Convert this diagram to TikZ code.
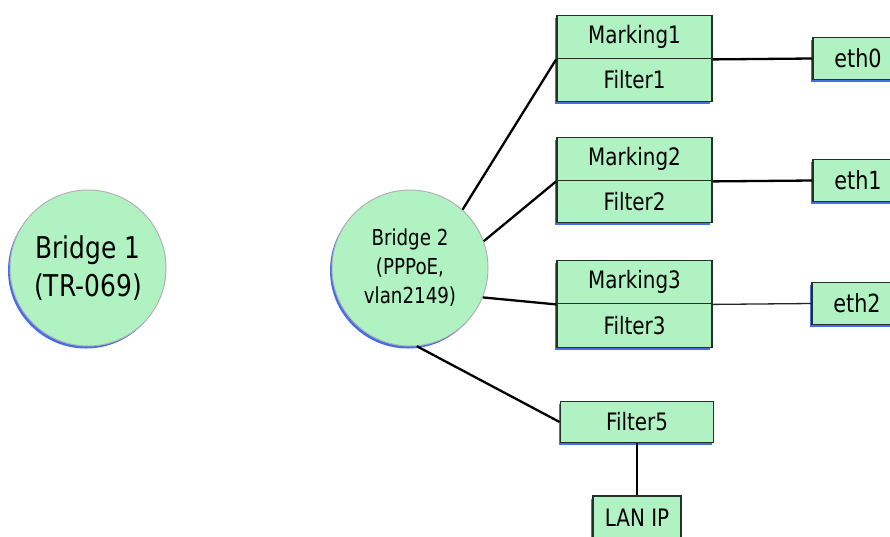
\documentclass[tikz,border=0pt]{standalone}
\usepackage{fontspec}
\newfontfamily\dvs[FakeStretch=0.83]{DejaVu Sans}
\definecolor{boxfill}{RGB}{176,242,194}
\definecolor{boxline}{RGB}{35,50,40}
\definecolor{shade}{RGB}{70,110,230}
\tikzset{
  shadowed/.style={preaction={fill=shade, transform canvas={shift={(-2pt,-2.5pt)}}}},
  cell/.style={draw=boxline, line width=1.8pt, fill=boxfill, shadowed, rectangle, inner sep=0pt,
     minimum width=155pt, minimum height=43pt, font=\dvs\fontsize{24}{28}\selectfont, text=black},
  bridge/.style={draw=black!30, line width=1pt, fill=boxfill, shadowed, circle, inner sep=0pt,
     minimum size=156pt, align=center, text=black},
  link/.style={line width=2.3pt, black},
}
\begin{document}
\begin{tikzpicture}[x=1pt,y=-1pt]
\clip (0,0) rectangle (890,536);
\fill[white] (0,0) rectangle (890,536);

\node[bridge, font=\dvs\fontsize{30}{38}\selectfont] (b1) at (88,268) {Bridge 1\\(TR-069)};
\node[bridge, font=\dvs\fontsize{22}{29}\selectfont] (b2) at (410,268) {Bridge 2\\(PPPoE,\\vlan2149)};

\node[cell] (m1) at (634.5,37) {Marking1};
\node[cell, minimum height=43pt] (f1) at (634.5,80) {Filter1};
\node[cell] (m2) at (634.5,159) {Marking2};
\node[cell, minimum height=42pt] (f2) at (634.5,201.5) {Filter2};
\node[cell] (m3) at (634.5,282) {Marking3};
\node[cell, minimum height=44pt] (f3) at (634.5,325.5) {Filter3};
\node[cell, minimum width=153pt, minimum height=41pt] (f5) at (637,422) {Filter5};
\node[cell, minimum width=88pt, minimum height=44pt] (lan) at (637,518) {LAN IP};

\node[cell, minimum width=90pt, minimum height=42pt, font=\dvs\fontsize{25}{30}\selectfont] (e0) at (858,58.5) {eth0};
\node[cell, minimum width=90pt, minimum height=42pt, font=\dvs\fontsize{25}{30}\selectfont] (e1) at (858,180.5) {eth1};
\node[cell, minimum width=90pt, minimum height=42pt, font=\dvs\fontsize{25}{30}\selectfont] (e2) at (857,303.5) {eth2};

\draw[link] (b2.48) -- (m1.south west);
\draw[link] (b2.20) -- (m2.south west);
\draw[link] (b2.-22) -- (m3.south west);
\draw[link] (b2.-85) -- (f5.west);
\draw[link] (m1.south east) -- (e0.west);
\draw[link] (m2.south east) -- (e1.west);
\draw[line width=1.3pt, black!85] (m3.south east) -- (e2.west);
\draw[link] (f5.south) -- (lan.north);
\end{tikzpicture}
\end{document}
